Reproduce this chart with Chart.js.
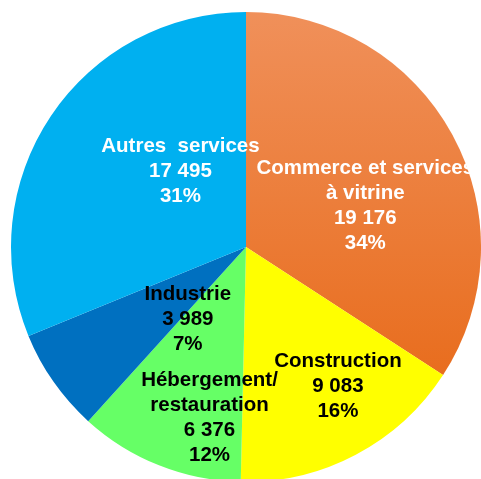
<!DOCTYPE html>
<html>
<head>
<meta charset="utf-8">
<script src="https://cdn.jsdelivr.net/npm/chart.js@4"></script>
<style>
  html, body { margin: 0; padding: 0; background: #fff; overflow: hidden; }
  #wrap { position: relative; width: 481px; height: 482px; }
</style>
</head>
<body>
<div id="wrap"><canvas id="pieChart"></canvas></div>
<script>
const categories = [
  ['Commerce et services', 'à vitrine'],
  ['Construction'],
  ['Hébergement/', 'restauration'],
  ['Industrie'],
  ['Autres  services']
];
const values = [19176, 9083, 6376, 3989, 17495];
const percents = [34, 16, 12, 7, 31];

const sliceColors = [null, '#FFFF00', '#66FF66', '#0070C0', '#00B0F0'];
const textColors = ['#FFFFFF', '#000000', '#000000', '#000000', '#FFFFFF'];
// nudge of each label block from the slice centroid (px)
const labelNudge = [[16, 15], [37, 35], [7, 62], [38, 5], [32, -10]];

function fmt(n) {
  return String(n).replace(/\B(?=(\d{3})+(?!\d))/g, ' ');
}

function orangeFill(ctx) {
  const area = ctx.chart.chartArea;
  if (!area) return '#EE7B35';
  const g = ctx.chart.ctx.createLinearGradient(0, area.top, 0, area.top + area.height * 0.8);
  g.addColorStop(0, '#F0905A');
  g.addColorStop(1, '#E86C1C');
  return g;
}

/* labels drawn inside the slices */
const sliceLabels = {
  id: 'sliceLabels',
  afterDatasetsDraw(chart) {
    const ctx = chart.ctx;
    const arcs = chart.getDatasetMeta(0).data;
    ctx.save();
    ctx.font = 'bold 20.5px "Liberation Sans", Arial, sans-serif';
    ctx.textAlign = 'center';
    ctx.textBaseline = 'middle';
    arcs.forEach((arc, i) => {
      const p = arc.tooltipPosition();
      const lines = categories[i].concat([fmt(values[i]), percents[i] + '%']);
      const lh = 25;
      const cx = p.x + labelNudge[i][0];
      const cy = p.y + labelNudge[i][1];
      const y0 = cy - (lines.length - 1) * lh / 2;
      ctx.fillStyle = textColors[i];
      lines.forEach((t, k) => ctx.fillText(t, cx, y0 + k * lh));
    });
    ctx.restore();
  }
};

new Chart(document.getElementById('pieChart'), {
  type: 'pie',
  data: {
    labels: categories.map(c => c.join(' ')),
    datasets: [{
      data: values,
      backgroundColor: ctx => ctx.dataIndex === 0 ? orangeFill(ctx) : sliceColors[ctx.dataIndex],
      borderWidth: 0
    }]
  },
  options: {
    responsive: true,
    maintainAspectRatio: false,
    animation: false,
    layout: { padding: { left: 11, top: 12, right: 0, bottom: 0 } },
    plugins: {
      legend: { display: false },
      tooltip: { enabled: false }
    }
  },
  plugins: [sliceLabels]
});
</script>
</body>
</html>
